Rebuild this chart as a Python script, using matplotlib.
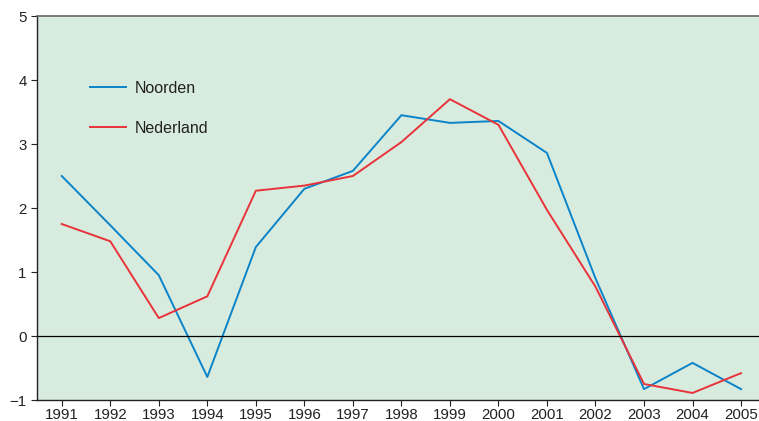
import matplotlib
matplotlib.use("Agg")
import matplotlib.pyplot as plt

plt.rcParams['font.family'] = ['Liberation Sans', 'DejaVu Sans']

# ===============================
# DATA
# ===============================
years = list(range(1991, 2006))
noorden = [2.50, 1.73, 0.95, -0.64, 1.39, 2.30, 2.58, 3.45, 3.33, 3.36,
           2.86, 0.90, -0.83, -0.42, -0.83]
nederland = [1.75, 1.48, 0.28, 0.62, 2.27, 2.35, 2.50, 3.03, 3.70, 3.30,
             1.97, 0.77, -0.75, -0.89, -0.58]

blue = '#0a84c9'
red = '#e8333a'
bg = '#d8ebdf'

fig = plt.figure(figsize=(7.59, 4.21), dpi=100)
ax = fig.add_axes([37 / 759, 21 / 421, 722 / 759, 384 / 421])
ax.set_facecolor(bg)

ax.plot(years, noorden, color=blue, lw=1.4, label='Noorden')
ax.plot(years, nederland, color=red, lw=1.4, label='Nederland')
ax.axhline(0, color='black', lw=0.9)

ax.set_xlim(1990.49, 2005.37)
ax.set_ylim(-1, 5)
ax.set_xticks(years)
ax.set_yticks(range(-1, 6))
ax.tick_params(labelsize=10.8, colors='#222222', length=4, width=0.8,
               direction='out')
ax.tick_params(axis='x', pad=2)

for side in ('left', 'bottom'):
    ax.spines[side].set_color('#222222')
    ax.spines[side].set_linewidth(1.0)
ax.spines['top'].set_color('#666666')
ax.spines['top'].set_linewidth(1.2)
ax.spines['right'].set_visible(False)

leg = ax.legend(loc='upper left', bbox_to_anchor=(0.054, 0.868), frameon=False,
                fontsize=11.5, labelspacing=1.55, handlelength=2.25,
                handletextpad=0.55)
for t in leg.get_texts():
    t.set_color('#222222')

fig.savefig('out.png', dpi=100)
